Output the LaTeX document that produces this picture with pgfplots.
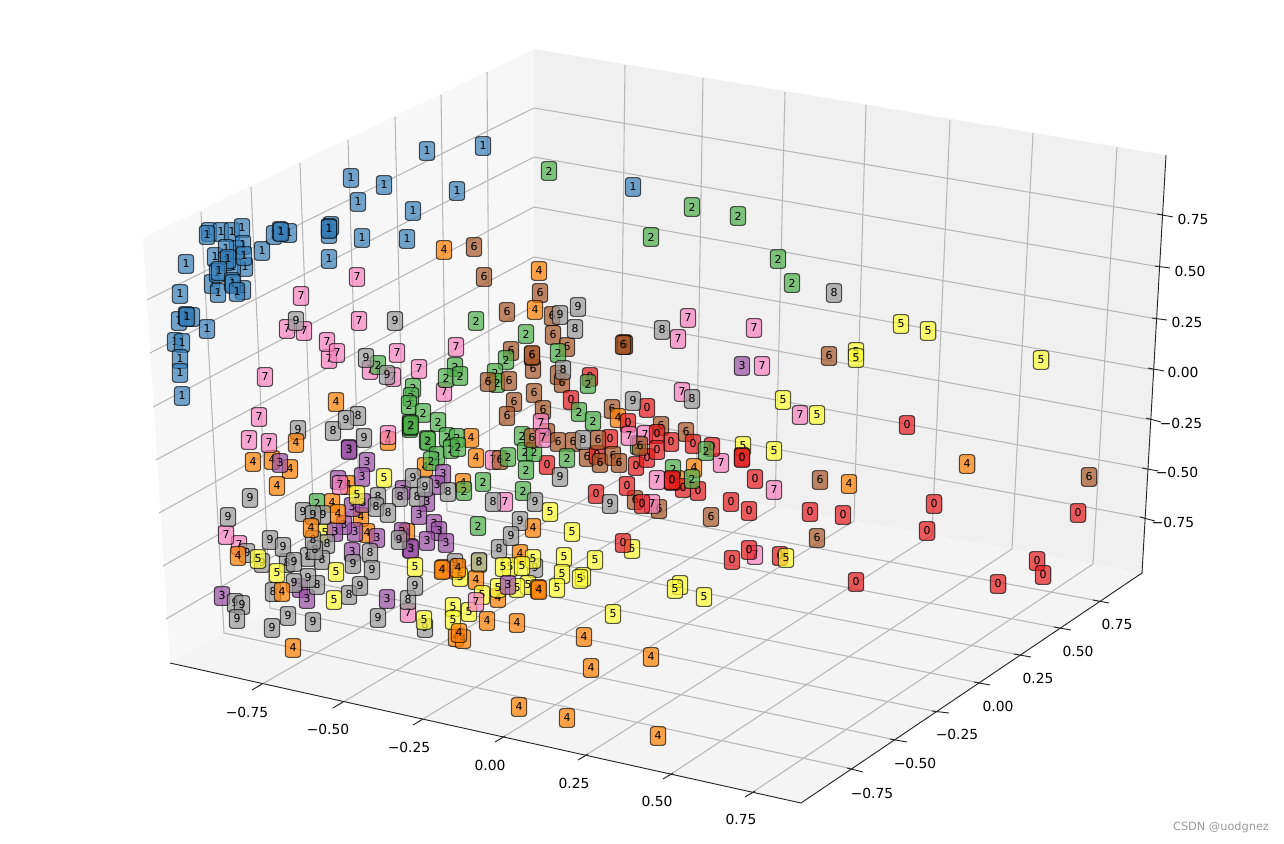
\documentclass[border=0pt]{standalone}
\usepackage{fontspec}
\setmainfont{DejaVu Sans}
\usepackage{pgfplots}
\usepackage{pgfplotstable}
\pgfplotsset{compat=1.18}
\definecolor{c0}{HTML}{E41A1C}
\definecolor{c1}{HTML}{377EB8}
\definecolor{c2}{HTML}{4DAF4A}
\definecolor{c3}{HTML}{984EA3}
\definecolor{c4}{HTML}{FF7F00}
\definecolor{c5}{HTML}{FFFF33}
\definecolor{c6}{HTML}{A65628}
\definecolor{c7}{HTML}{F781BF}
\definecolor{c8}{HTML}{999999}
\definecolor{c9}{HTML}{999999}
\definecolor{gridc}{HTML}{B8B8B8}
\pgfplotstableread[row sep=\\]{
x y c\\
209 232 1\\ 221 232 1\\ 232 232 1\\ 242 228 1\\ 207 235 1\\ 245 267 1\\ 233 267 1\\ 215 257 1\\ 212 284 1\\ 218 293 1\\ 243 290 1\\ 237 250 1\\ 243 245 1\\ 226 249 1\\ 226 261 1\\ 228 259 1\\ 244 256 1\\ 217 273 1\\ 219 271 1\\ 232 282 1\\ 233 284 1\\ 237 292 1\\
262 251 1\\ 274 235 1\\ 289 233 1\\ 280 231 1\\ 281 232 1\\ 329 234 1\\ 331 226 1\\ 329 228 1\\ 329 229 1\\ 329 259 1\\ 362 238 1\\ 407 239 1\\ 413 211 1\\ 358 202 1\\ 351 178 1\\ 384 185 1\\ 427 151 1\\ 483 146 1\\ 457 191 1\\ 633 187 1\\
186 264 1\\ 180 294 1\\ 179 321 1\\ 192 317 1\\ 186 316 1\\ 187 317 1\\ 207 329 1\\ 175 342 1\\ 182 343 1\\ 180 359 1\\ 180 373 1\\ 182 396 1\\
388 441 4\\ 425 467 4\\ 348 485 4\\ 361 517 4\\ 367 533 4\\ 407 533 4\\ 443 569 4\\ 457 570 4\\ 332 503 4\\ 638 445 2\\ 677 480 4\\
317 503 2\\ 645 435 7\\ 408 613 7\\ 239 545 7\\ 370 370 7\\ 393 377 7\\ 329 359 7\\ 327 342 7\\ 337 353 7\\ 287 329 7\\ 304 331 7\\
325 533 5\\ 479 563 5\\ 455 563 9\\ 535 568 9\\ 262 563 9\\
474 247 6\\ 484 277 6\\ 507 312 6\\ 540 293 6\\ 552 316 6\\ 553 335 6\\ 567 347 6\\ 511 351 6\\ 533 369 6\\ 558 375 6\\ 562 383 6\\ 534 393 6\\ 514 402 6\\ 507 416 6\\ 543 410 6\\ 612 409 6\\ 547 433 6\\ 558 442 6\\ 573 442 6\\ 661 426 6\\ 686 432 6\\ 587 457 6\\ 635 500 6\\ 659 509 6\\ 711 517 6\\ 820 480 6\\ 817 538 6\\ 829 356 6\\ 1089 477 6\\ 624 344 6\\ 625 345 6\\ 623 345 6\\
444 250 4\\ 539 271 4\\ 535 310 4\\ 336 402 4\\ 471 438 4\\ 476 458 4\\ 253 462 4\\ 272 460 4\\ 290 469 4\\ 277 486 4\\ 293 648 4\\ 463 483 4\\ 618 418 4\\ 694 468 4\\ 533 528 4\\ 520 554 4\\ 476 580 4\\ 498 598 4\\ 487 621 4\\ 517 623 4\\ 584 637 4\\ 651 657 4\\ 591 668 4\\ 519 707 4\\ 567 718 4\\ 658 736 4\\ 967 464 4\\ 849 484 4\\ 456 637 4\\ 463 639 4\\
301 296 7\\ 357 277 7\\ 359 321 7\\ 265 377 7\\ 397 353 7\\ 419 369 7\\ 456 347 7\\ 444 392 7\\ 259 417 7\\ 249 440 7\\ 269 443 7\\ 388 435 7\\ 226 535 7\\ 493 460 7\\ 541 423 7\\ 505 502 7\\ 682 392 7\\ 800 415 7\\ 721 463 7\\ 657 480 7\\ 774 490 7\\ 652 504 7\\ 755 555 7\\ 688 318 7\\ 678 339 7\\ 754 328 7\\ 762 366 7\\
500 460 6\\ 
590 377 0\\ 571 400 0\\ 647 408 0\\ 628 423 0\\ 610 439 0\\ 671 442 0\\ 693 444 0\\ 712 447 0\\ 597 455 0\\ 636 466 0\\ 647 458 0\\ 547 465 0\\ 755 479 0\\ 683 488 0\\ 698 491 0\\ 627 486 0\\ 596 494 0\\ 731 502 0\\ 749 511 0\\ 810 512 0\\ 642 504 0\\ 749 550 0\\ 732 560 0\\ 780 556 0\\ 843 515 0\\ 934 504 0\\ 927 531 0\\ 907 425 0\\ 1078 513 0\\ 1037 561 0\\ 1043 575 0\\ 998 584 0\\ 856 582 0\\
549 171 2\\ 692 207 2\\ 738 216 2\\ 651 237 2\\ 778 259 2\\ 792 283 2\\ 476 321 2\\ 526 334 2\\ 506 360 2\\ 558 353 2\\ 495 373 2\\ 497 383 2\\ 455 367 2\\ 446 378 2\\ 460 376 2\\ 588 384 2\\ 579 412 2\\ 593 421 2\\ 413 388 2\\ 411 397 2\\ 409 405 2\\ 423 413 2\\ 438 422 2\\ 410 424 2\\ 410 428 2\\ 410 426 2\\ 411 425 2\\ 427 440 2\\ 428 441 2\\ 447 437 2\\ 457 438 2\\ 437 456 2\\ 451 449 2\\ 458 447 2\\ 431 461 2\\ 522 436 2\\ 525 452 2\\ 534 452 2\\ 508 457 2\\ 526 470 2\\ 567 458 2\\ 483 482 2\\ 523 491 2\\ 464 491 2\\ 378 365 2\\ 706 451 2\\ 673 469 2\\ 692 479 2\\ 478 526 2\\
488 382 6\\ 509 381 6\\ 532 356 6\\ 532 355 6\\ 532 438 6\\ 
742 366 3\\ 349 449 3\\ 349 450 3\\ 367 462 3\\ 362 477 3\\ 443 474 3\\ 437 485 3\\ 427 502 3\\ 419 515 3\\ 434 524 3\\ 439 531 3\\ 427 541 3\\ 446 543 3\\ 410 548 3\\ 411 549 3\\ 402 532 3\\ 377 538 3\\ 355 532 3\\ 344 525 3\\ 335 532 3\\ 352 507 3\\ 363 503 3\\ 338 480 3\\ 403 490 3\\ 352 552 3\\ 300 588 3\\ 307 599 3\\ 222 596 3\\ 387 599 3\\ 280 463 3\\
834 293 8\\ 662 330 8\\ 692 399 8\\ 575 329 8\\ 563 370 8\\ 358 416 8\\ 333 431 8\\ 400 497 8\\ 417 497 8\\ 448 492 8\\ 378 497 8\\ 376 507 8\\ 388 513 8\\ 327 544 8\\ 308 557 8\\ 322 560 8\\ 287 563 8\\ 370 553 8\\ 315 550 8\\ 313 540 8\\ 273 592 8\\ 317 585 8\\ 349 595 8\\ 408 600 8\\ 493 502 8\\ 499 549 8\\ 479 562 8\\ 583 440 8\\
578 307 9\\ 560 315 9\\ 395 321 9\\ 296 321 9\\ 366 358 9\\ 387 375 9\\ 633 401 9\\ 560 477 9\\ 413 478 9\\ 425 487 9\\ 298 430 9\\ 346 420 9\\ 364 438 9\\ 250 498 9\\ 228 517 9\\ 323 515 9\\ 303 512 9\\ 313 515 9\\ 270 540 9\\ 283 547 9\\ 294 562 9\\ 247 553 9\\ 308 578 9\\ 294 583 9\\ 353 564 9\\ 372 570 9\\ 360 586 9\\ 415 586 9\\ 235 603 9\\ 242 605 9\\ 237 619 9\\ 288 616 9\\ 313 622 9\\ 272 628 9\\ 378 618 9\\ 425 628 9\\ 399 540 9\\ 610 504 9\\ 535 502 9\\ 520 521 9\\ 511 536 9\\
598 440 6\\ 600 463 6\\ 613 456 6\\ 619 463 6\\ 640 446 6\\ 
384 478 5\\ 357 495 5\\ 258 559 5\\ 277 573 5\\ 336 572 5\\ 334 600 5\\ 415 567 5\\ 424 620 5\\ 453 607 5\\ 453 620 5\\ 460 577 5\\ 550 512 5\\ 572 532 5\\ 632 549 5\\ 595 560 5\\ 564 557 5\\ 533 559 5\\ 510 567 5\\ 503 567 5\\ 522 566 5\\ 562 574 5\\ 583 577 5\\ 580 579 5\\ 557 588 5\\ 528 585 5\\ 517 588 5\\ 498 588 5\\ 482 595 5\\ 469 612 5\\ 613 614 5\\ 786 558 5\\ 743 446 5\\ 774 451 5\\ 783 400 5\\ 817 415 5\\ 680 585 5\\ 675 589 5\\ 704 597 5\\ 901 324 5\\ 928 331 5\\ 856 352 5\\ 856 358 5\\ 1041 360 5\\
508 585 3\\ 476 602 7\\ 340 485 7\\ 543 438 7\\ 629 436 7\\ 
742 457 0\\ 742 458 0\\ 623 543 0\\ 657 434 0\\ 657 450 0\\ 672 481 0\\ 672 480 0\\ 
311 528 4\\ 338 514 4\\ 238 556 4\\ 282 592 4\\ 296 443 4\\ 538 589 4\\ 539 590 4\\ 442 570 4\\ 458 568 4\\ 459 633 4\\ 
}\pts
\newcommand\seg[4]{\addplot[gridc,line width=0.8pt,forget plot] coordinates {(#1,#2)(#3,#4)};}
\newcommand\blk[4]{\addplot[black!85,line width=0.7pt,forget plot] coordinates {(#1,#2)(#3,#4)};}
\newcommand\tl[3]{\node[font=\fontsize{10.4pt}{12pt}\selectfont,text=black,inner sep=0pt] at (axis cs:#1,#2) {#3};}
\begin{document}
\begin{tikzpicture}
\path[use as bounding box] (0,0) rectangle (963pt,632.25pt);
\begin{axis}[
  width=963pt,height=632.25pt,scale only axis,
  xmin=0,xmax=1284,ymin=0,ymax=843,y dir=reverse,
  axis lines=none,clip=false]
% panes
\addplot[fill=black!3,draw=none,forget plot] coordinates {(143,238)(534,49)(534,463)(170,663)};
\addplot[fill=black!6,draw=none,forget plot] coordinates {(534,49)(1166,155)(1142,573)(534,463)};
\addplot[fill=black!4.5,draw=none,forget plot] coordinates {(170,663)(534,463)(1142,573)(801,803)};
% left wall verticals
\seg{201}{212}{224}{633}\seg{251}{187}{270}{608}\seg{300}{163}{316}{583}\seg{348}{140}{361}{558}\seg{395}{117}{405}{534}\seg{441}{95}{447}{511}\seg{487}{72}{490}{487}
% right wall verticals
\seg{625}{65}{620}{479}\seg{703}{78}{696}{492}\seg{785}{92}{775}{507}\seg{866}{105}{854}{521}\seg{950}{120}{932}{535}\seg{1033}{133}{1012}{549}\seg{1117}{147}{1093}{564}
% horizontals, left wall
\seg{147}{300}{534}{108}\seg{150}{353}{534}{157}\seg{153}{407}{534}{207}\seg{156}{460}{534}{257}\seg{159}{513}{534}{306}\seg{163}{566}{534}{355}\seg{166}{619}{534}{404}
% horizontals, right wall
\seg{534}{108}{1163}{215}\seg{534}{157}{1160}{267}\seg{534}{207}{1157}{319}\seg{534}{257}{1154}{370}\seg{534}{306}{1151}{420}\seg{534}{355}{1148}{469}\seg{534}{404}{1145}{518}
% floor, lines to the front edge
\seg{257}{687}{620}{479}\seg{338}{705}{696}{492}\seg{418}{722}{775}{507}\seg{500}{739}{854}{521}\seg{583}{757}{932}{535}\seg{668}{776}{1012}{549}\seg{750}{794}{1093}{564}
% floor, lines to the right edge
\seg{224}{633}{853}{769}\seg{270}{608}{896}{740}\seg{316}{583}{938}{712}\seg{361}{558}{980}{683}\seg{405}{534}{1020}{655}\seg{447}{511}{1060}{628}\seg{490}{487}{1099}{601}
% axis lines
\blk{170}{663}{801}{803}\blk{801}{803}{1142}{573}\blk{1142}{573}{1166}{155}
% x ticks
\blk{252}{690}{262}{684}\blk{333}{708}{343}{702}\blk{413}{725}{423}{719}\blk{495}{742}{505}{736}\blk{578}{760}{588}{754}\blk{663}{779}{673}{773}\blk{745}{797}{755}{791}
% y ticks
\blk{847}{768}{863}{772}\blk{890}{739}{907}{742}\blk{932}{711}{949}{713}\blk{974}{682}{990}{685}\blk{1014}{654}{1031}{657}\blk{1054}{627}{1071}{630}\blk{1093}{600}{1109}{603}
% z ticks
\blk{1157}{214}{1173}{217}\blk{1155}{266}{1170}{268}\blk{1152}{318}{1167}{320}\blk{1148}{368}{1164}{371}\blk{1146}{418}{1161}{422}\blk{1142}{468}{1158}{471}\blk{1140}{517}{1155}{521}
\tl{247}{712}{−0.75}\tl{328}{729}{−0.50}\tl{409}{747}{−0.25}\tl{490}{765}{0.00}\tl{574}{783}{0.25}\tl{657}{801}{0.50}\tl{741}{819}{0.75}
\tl{872}{793}{−0.75}\tl{915}{763}{−0.50}\tl{957}{734}{−0.25}\tl{998}{706}{0.00}\tl{1038}{678}{0.25}\tl{1078}{651}{0.50}\tl{1117}{624}{0.75}
\tl{1193}{219}{0.75}\tl{1190}{271}{0.50}\tl{1187}{322}{0.25}\tl{1183}{372}{0.00}\tl{1181}{423}{−0.25}\tl{1177}{472}{−0.50}\tl{1173}{522}{−0.75}
\node[font=\fontsize{8.5pt}{10pt}\selectfont,text=black!40,inner sep=0pt] at (axis cs:1221,827) {CSDN @uodgnez};
% labelled points
\addplot[only marks,mark=none,forget plot,
  point meta=explicit symbolic,
  nodes near coords={\pgfplotspointmeta},
  nodes near coords align=center,
  every node near coord/.append style={
    anchor=center,inner sep=0pt,
    minimum width=11.5pt,minimum height=14pt,
    rounded corners=2.2pt,
    font=\fontsize{8.2pt}{10pt}\selectfont,
    fill=c\pgfplotspointmeta,fill opacity=0.7,
    draw=black,draw opacity=0.65,line width=0.85pt,
    text=black,text opacity=1}
  ] table[x=x,y=y,meta=c] {\pts};
\end{axis}
\end{tikzpicture}
\end{document}
